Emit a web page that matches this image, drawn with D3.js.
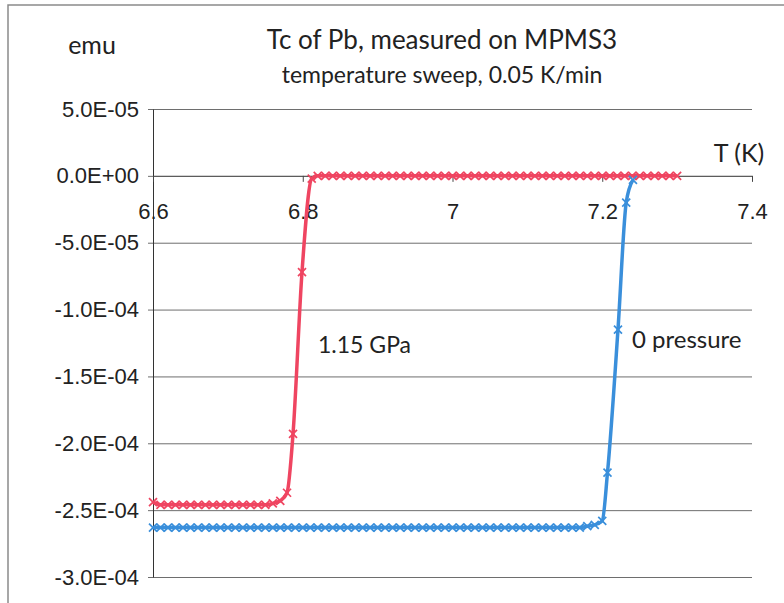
<!DOCTYPE html>
<html>
<head>
<meta charset="utf-8">
<script src="https://cdn.jsdelivr.net/npm/d3@7"></script>
<style>
  body { margin: 0; background: #fff; }
  svg { font-family: Lato, "Noto Sans", sans-serif; }
</style>
</head>
<body>
<div id="chart"></div>
<script>
var w = 784, h = 603;

// 1.15 GPa run
var redT = [6.60, 6.61, 6.62, 6.63, 6.64, 6.65, 6.66, 6.67, 6.68, 6.69,
  6.70, 6.71, 6.72, 6.73, 6.74, 6.75, 6.76, 6.77,
  6.779, 6.787, 6.799, 6.812,
  6.82, 6.83, 6.84, 6.85, 6.86, 6.87, 6.88, 6.89, 6.90, 6.91,
  6.92, 6.93, 6.94, 6.95, 6.96, 6.97, 6.98, 6.99, 7.00, 7.01,
  7.02, 7.03, 7.04, 7.05, 7.06, 7.07, 7.08, 7.09, 7.10, 7.11,
  7.12, 7.13, 7.14, 7.15, 7.16, 7.17, 7.18, 7.19, 7.20, 7.21,
  7.22, 7.23, 7.24, 7.25, 7.26, 7.27, 7.28, 7.29, 7.30];
var redEmu = [-2.44e-4, -2.46e-4, -2.46e-4, -2.46e-4, -2.46e-4, -2.46e-4, -2.46e-4, -2.46e-4, -2.46e-4, -2.46e-4,
  -2.46e-4, -2.46e-4, -2.46e-4, -2.46e-4, -2.46e-4, -2.46e-4, -2.45e-4, -2.43e-4,
  -2.37e-4, -1.93e-4, -7.2e-5, -2e-6,
  0, 0, 0, 0, 0, 0, 0, 0, 0, 0,
  0, 0, 0, 0, 0, 0, 0, 0, 0, 0,
  0, 0, 0, 0, 0, 0, 0, 0, 0, 0,
  0, 0, 0, 0, 0, 0, 0, 0, 0, 0,
  0, 0, 0, 0, 0, 0, 0, 0, 0];

// 0 pressure run
var blueT = [6.60, 6.61, 6.62, 6.63, 6.64, 6.65, 6.66, 6.67, 6.68, 6.69,
  6.70, 6.71, 6.72, 6.73, 6.74, 6.75, 6.76, 6.77, 6.78, 6.79,
  6.80, 6.81, 6.82, 6.83, 6.84, 6.85, 6.86, 6.87, 6.88, 6.89,
  6.90, 6.91, 6.92, 6.93, 6.94, 6.95, 6.96, 6.97, 6.98, 6.99,
  7.00, 7.01, 7.02, 7.03, 7.04, 7.05, 7.06, 7.07, 7.08, 7.09,
  7.10, 7.11, 7.12, 7.13, 7.14, 7.15, 7.16, 7.17, 7.18, 7.19,
  7.200, 7.207, 7.221, 7.232, 7.241];
var blueEmu = [-2.63e-4, -2.63e-4, -2.63e-4, -2.63e-4, -2.63e-4, -2.63e-4, -2.63e-4, -2.63e-4, -2.63e-4, -2.63e-4,
  -2.63e-4, -2.63e-4, -2.63e-4, -2.63e-4, -2.63e-4, -2.63e-4, -2.63e-4, -2.63e-4, -2.63e-4, -2.63e-4,
  -2.63e-4, -2.63e-4, -2.63e-4, -2.63e-4, -2.63e-4, -2.63e-4, -2.63e-4, -2.63e-4, -2.63e-4, -2.63e-4,
  -2.63e-4, -2.63e-4, -2.63e-4, -2.63e-4, -2.63e-4, -2.63e-4, -2.63e-4, -2.63e-4, -2.63e-4, -2.63e-4,
  -2.63e-4, -2.63e-4, -2.63e-4, -2.63e-4, -2.63e-4, -2.63e-4, -2.63e-4, -2.63e-4, -2.63e-4, -2.63e-4,
  -2.63e-4, -2.63e-4, -2.63e-4, -2.63e-4, -2.63e-4, -2.63e-4, -2.63e-4, -2.63e-4, -2.62e-4, -2.61e-4,
  -2.58e-4, -2.22e-4, -1.15e-4, -2.0e-5, -3e-6];

var xTicks = [6.6, 6.8, 7.0, 7.2, 7.4];
var xTickLabels = ["6.6", "6.8", "7", "7.2", "7.4"];
var yTicks = [5e-5, 0, -5e-5, -1e-4, -1.5e-4, -2e-4, -2.5e-4, -3e-4];
var yTickLabels = ["5.0E-05", "0.0E+00", "-5.0E-05", "-1.0E-04", "-1.5E-04", "-2.0E-04", "-2.5E-04", "-3.0E-04"];

var plotLeft = 153, plotRight = 752, plotTop = 109, plotBottom = 577;

var xScale = d3.scaleLinear().domain([6.6, 7.4]).range([plotLeft, plotRight]);
var yScale = d3.scaleLinear().domain([-3e-4, 5e-5]).range([plotBottom, plotTop]);

var svg = d3.select("#chart").append("svg")
  .attr("width", w)
  .attr("height", h);

// frame of the pasted picture
svg.append("path")
  .attr("d", "M8,603 L8,5 L784,5")
  .attr("fill", "none")
  .attr("stroke", "#8a8a8a")
  .attr("stroke-width", 1.5);

// Horizontal gridlines
svg.append("g")
  .attr("transform", "translate(" + plotLeft + ",0)")
  .call(d3.axisRight(yScale).tickValues(yTicks).tickSize(plotRight - plotLeft).tickFormat(""))
  .call(function(g) { g.select(".domain").remove(); })
  .selectAll("line")
  .attr("stroke", "#6e6e6e");

// Y axis
var yAxis = svg.append("g")
  .attr("transform", "translate(" + plotLeft + ",0)")
  .call(d3.axisLeft(yScale).tickValues(yTicks).tickSize(5).tickSizeOuter(0).tickPadding(9)
    .tickFormat(function(d, i) { return yTickLabels[i]; }));
yAxis.select(".domain").attr("stroke", "#333");
yAxis.selectAll("line").attr("stroke", "#6e6e6e");
yAxis.selectAll("text").attr("font-size", 22).attr("fill", "#222");

// X axis at zero
var xAxis = svg.append("g")
  .attr("transform", "translate(0," + yScale(0) + ")")
  .call(d3.axisBottom(xScale).tickValues(xTicks).tickSize(6).tickSizeOuter(0).tickPadding(22)
    .tickFormat(function(d, i) { return xTickLabels[i]; }));
xAxis.select(".domain").attr("stroke", "#555");
xAxis.selectAll("line").attr("stroke", "#444");
xAxis.selectAll("text").attr("font-size", 22).attr("fill", "#222");

// Series
var series = [
  { t: redT, v: redEmu, color: "#ef4561" },
  { t: blueT, v: blueEmu, color: "#3a8fdb" }
];

var line = d3.line()
  .x(function(d) { return xScale(d[0]); })
  .y(function(d) { return yScale(d[1]); })
  .curve(d3.curveMonotoneX);

series.forEach(function(s) {
  var pts = s.t.map(function(t, i) { return [t, s.v[i]]; });
  var g = svg.append("g");
  g.append("path")
    .datum(pts)
    .attr("d", line)
    .attr("fill", "none")
    .attr("stroke", s.color)
    .attr("stroke-width", 3.5);
  g.selectAll("path.mark")
    .data(pts)
    .enter()
    .append("path")
    .attr("class", "mark")
    .attr("d", function(d) {
      var cx = xScale(d[0]), cy = yScale(d[1]), r = 4;
      return "M" + (cx - r) + "," + (cy - r) + "L" + (cx + r) + "," + (cy + r) +
        "M" + (cx - r) + "," + (cy + r) + "L" + (cx + r) + "," + (cy - r);
    })
    .attr("stroke", s.color)
    .attr("stroke-width", 1.7);
});

// Texts
svg.append("text")
  .attr("x", 442).attr("y", 49)
  .attr("text-anchor", "middle")
  .attr("font-size", 26)
  .attr("fill", "#222")
  .text("Tc of Pb, measured on MPMS3");

svg.append("text")
  .attr("x", 442).attr("y", 83)
  .attr("text-anchor", "middle")
  .attr("font-size", 23)
  .attr("fill", "#222")
  .text("temperature sweep, 0.05 K/min");

svg.append("text")
  .attr("x", 92).attr("y", 54)
  .attr("text-anchor", "middle")
  .attr("font-size", 25)
  .attr("fill", "#222")
  .text("emu");

svg.append("text")
  .attr("x", 739).attr("y", 162)
  .attr("text-anchor", "middle")
  .attr("font-size", 25)
  .attr("fill", "#222")
  .text("T (K)");

svg.append("text")
  .attr("x", 318).attr("y", 353)
  .attr("font-size", 23)
  .attr("fill", "#222")
  .text("1.15 GPa");

svg.append("text")
  .attr("x", 632).attr("y", 348)
  .attr("font-size", 24)
  .attr("fill", "#222")
  .text("0 pressure");
</script>
</body>
</html>
